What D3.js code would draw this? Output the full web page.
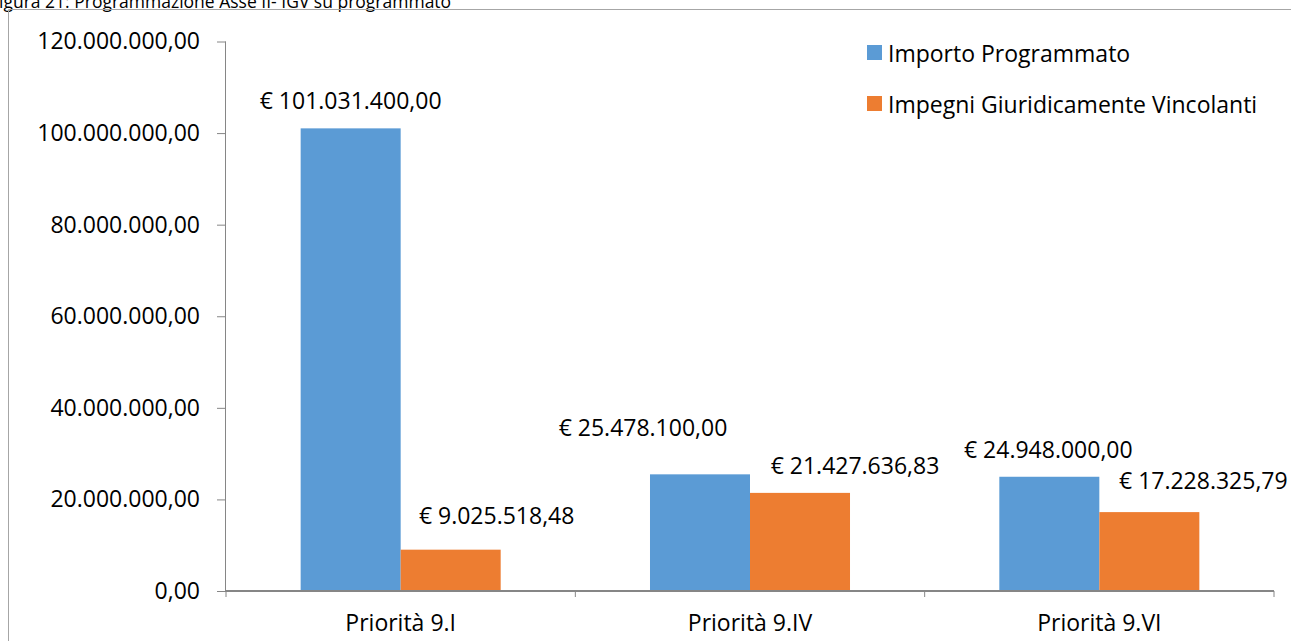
<!DOCTYPE html>
<html>
<head>
<meta charset="utf-8">
<script src="https://cdn.jsdelivr.net/npm/d3@7"></script>
<style>
  html, body { margin: 0; padding: 0; background: #fff; }
  svg { display: block; }
  text { font-family: "Open Sans", "Liberation Sans", sans-serif; fill: #000; }
</style>
</head>
<body>
<svg id="chart" width="1291" height="641"></svg>
<script>
// ---- data ----
const categories = ["Priorità 9.I", "Priorità 9.IV", "Priorità 9.VI"];
const seriesNames = ["Importo Programmato", "Impegni Giuridicamente Vincolanti"];
const importoProgrammato = [101031400.00, 25478100.00, 24948000.00];
const impegniGiuridicamente = [9025518.48, 21427636.83, 17228325.79];
const yTicks = [0, 20000000, 40000000, 60000000, 80000000, 100000000, 120000000];
const titleText = "igura 21: Programmazione Asse II- IGV su programmato";

// ---- layout / style (not data) ----
const colors = ["#5B9BD5", "#ED7D31"];
// manual label offsets from bar centre / bar top, as in the original
const labelDx = [[0, -57, -1], [46, 55, 54]];
const labelDy = [[-28, -47, -28], [-35, -28, -32]];

const svg = d3.select("#chart");
const fontSize = 23;

const plot = { left: 226, right: 1274, top: 41.5, bottom: 591 };

const x0 = d3.scaleBand().domain(categories).range([plot.left, plot.right]).paddingInner(0).paddingOuter(0);
const x1 = d3.scaleBand().domain(seriesNames).range([0, x0.bandwidth()]).paddingInner(0).paddingOuter(0.7465);
const y = d3.scaleLinear().domain([0, 120000000]).range([plot.bottom, plot.top]);

const it = d3.formatLocale({ decimal: ",", thousands: ".", grouping: [3], currency: ["€ ", ""] });
const fmtAxis = it.format(",.2f");
const fmtLabel = it.format("$,.2f");

// title (partly cut at the top, as in the original)
svg.append("text").attr("x", -1).attr("y", 7.5).attr("font-size", 17.5).text(titleText);

// outer frame
svg.append("path").attr("d", "M8.5,641 V9.5 H1291").attr("fill", "none").attr("stroke", "#a6a6a6").attr("stroke-width", 1);

// bars
const seriesValues = [importoProgrammato, impegniGiuridicamente];
seriesNames.forEach((s, si) => {
  const g = svg.append("g");
  g.selectAll("rect").data(categories).join("rect")
    .attr("x", (c) => x0(c) + x1(s))
    .attr("y", (c, i) => y(seriesValues[si][i]))
    .attr("width", x1.bandwidth())
    .attr("height", (c, i) => y(0) - y(seriesValues[si][i]))
    .attr("fill", colors[si]);
  g.selectAll("text").data(categories).join("text")
    .attr("x", (c, i) => x0(c) + x1(s) + x1.bandwidth() / 2 + labelDx[si][i])
    .attr("y", (c, i) => y(seriesValues[si][i]) + labelDy[si][i])
    .attr("text-anchor", "middle")
    .attr("dominant-baseline", "central")
    .attr("font-size", fontSize)
    .text((c, i) => fmtLabel(seriesValues[si][i]));
});

// y axis
const yAxis = d3.axisLeft(y).tickValues(yTicks).tickFormat(fmtAxis).tickSize(9).tickPadding(17);
const gy = svg.append("g").attr("transform", `translate(${plot.left},0)`).call(yAxis);
gy.select(".domain").attr("stroke", "#868686").attr("d", `M-0.5,${plot.top}V${plot.bottom}`);
gy.selectAll(".tick line").attr("stroke", "#868686");
gy.selectAll(".tick text").attr("font-size", fontSize).attr("font-family", null).attr("fill", "#000");

// x axis
const xAxis = d3.axisBottom(x0).tickSize(0).tickPadding(23);
const gx = svg.append("g").attr("transform", `translate(0,${plot.bottom})`).call(xAxis);
gx.select(".domain").attr("stroke", "#868686").attr("stroke-width", 2).attr("d", `M${plot.left},0H${plot.right}`);
gx.selectAll(".tick text").attr("font-size", fontSize).attr("font-family", null).attr("fill", "#000").attr("dy", "0.75em");
// category separator ticks
const seps = [plot.left, ...categories.slice(1).map((c) => x0(c)), plot.right];
gx.selectAll("line.sep").data(seps).join("line").attr("class", "sep")
  .attr("x1", (d) => d).attr("x2", (d) => d).attr("y1", 0).attr("y2", 6)
  .attr("stroke", "#868686");

// legend
const legend = svg.append("g").attr("transform", "translate(867,45)");
seriesNames.forEach((s, i) => {
  const row = legend.append("g").attr("transform", `translate(0,${i * 51})`);
  row.append("rect").attr("width", 15).attr("height", 15).attr("fill", colors[i]);
  row.append("text").attr("x", 21).attr("y", 7.5).attr("dominant-baseline", "central")
    .attr("font-size", fontSize).text(s);
});
</script>
</body>
</html>
